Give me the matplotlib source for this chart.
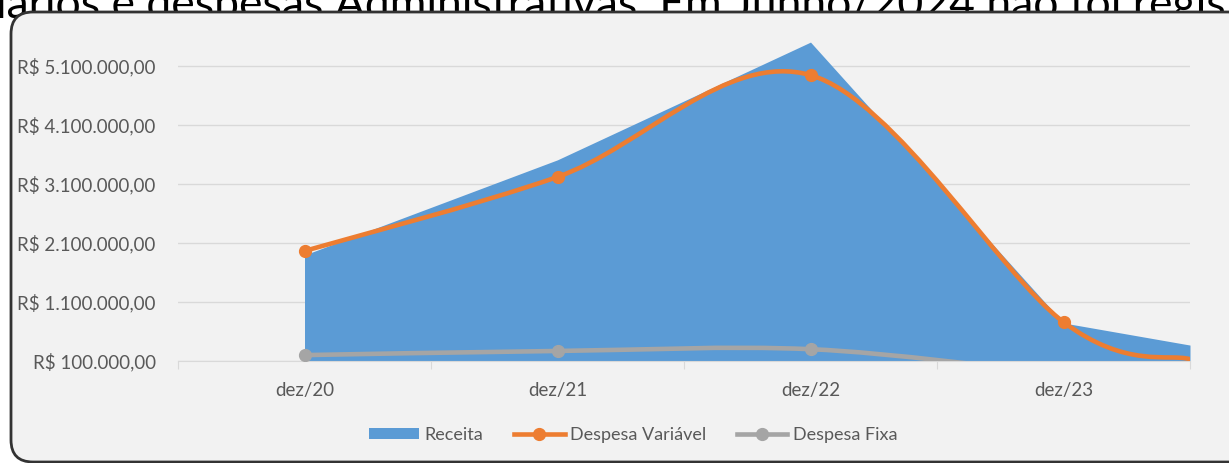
import numpy as np
import matplotlib
matplotlib.use("Agg")
import matplotlib.pyplot as plt
from matplotlib.path import Path
from matplotlib.patches import PathPatch, FancyBboxPatch, Patch
from matplotlib.lines import Line2D
from matplotlib.transforms import IdentityTransform
from matplotlib.ticker import FuncFormatter

plt.rcParams['font.family'] = ['Lato', 'DejaVu Sans']

# months counted from jun/20
MONTHS = [6, 18, 30, 42, 48]
CATEGORY_LABELS = ["dez/20", "dez/21", "dez/22", "dez/23"]
RECEITA = [1_897_000, 3_510_000, 5_505_000, 745_000, 370_000]
DESPESA_VARIAVEL = [1_965_000, 3_220_000, 4_945_000, 760_000, 130_000]
DESPESA_FIXA = [200_000, 270_000, 300_000, -100_000, -100_000]
Y_TICKS = [100_000, 1_100_000, 2_100_000, 3_100_000, 4_100_000, 5_100_000]

BLUE = '#5b9bd5'
ORANGE = '#ed7d31'
GRAY = '#a5a5a5'
TEXT = '#595959'


def brl(v, pos=None):
    s = f"{v:,.2f}"
    s = s.replace(",", "X").replace(".", ",").replace("X", ".")
    return "R$ " + s


def SmoothPath(xs, ys):
    # Excel-style smoothing: cubic bezier with catmull-rom control points
    pts = np.column_stack([xs, ys]).astype(float)
    n = len(pts)
    verts = [pts[0]]
    codes = [Path.MOVETO]
    for i in range(n - 1):
        p0 = pts[i - 1] if i > 0 else pts[i]
        p1 = pts[i]
        p2 = pts[i + 1]
        p3 = pts[i + 2] if i + 2 < n else pts[i + 1]
        verts += [p1 + (p2 - p0) / 6, p2 - (p3 - p1) / 6, p2]
        codes += [Path.CURVE4] * 3
    return Path(verts, codes)


fig = plt.figure(figsize=(12.29, 4.63), dpi=100)
fig.patch.set_facecolor('white')

# text of the page behind the chart, mostly hidden by the chart frame
fig.text(-4, 445, "lários e despesas Administrativas. Em Junho/2024 não foi registrado",
         transform=IdentityTransform(), fontsize=32, color='black', va='baseline', zorder=-3)

frame = FancyBboxPatch((11, 1), 1240, 450, boxstyle="round,pad=0,rounding_size=22",
                       transform=IdentityTransform(), facecolor='#f2f2f2',
                       edgecolor='#333333', linewidth=2, zorder=-1)
fig.add_artist(frame)

ax = fig.add_axes([178 / 1229, 1 - 361 / 463, (1190 - 178) / 1229, (361 - 36.5) / 463])
ax.set_facecolor('none')

ax.fill_between(MONTHS, RECEITA, 0, color=BLUE, linewidth=0, zorder=2)

ax.add_patch(PathPatch(SmoothPath(MONTHS, DESPESA_FIXA), fill=False, edgecolor=GRAY,
                       linewidth=3.3, capstyle='round', zorder=3))
ax.plot(MONTHS, DESPESA_FIXA, 'o', color=GRAY, markersize=8.5, zorder=4)

ax.add_patch(PathPatch(SmoothPath(MONTHS, DESPESA_VARIAVEL), fill=False, edgecolor=ORANGE,
                       linewidth=3.3, capstyle='round', zorder=5))
ax.plot(MONTHS, DESPESA_VARIAVEL, 'o', color=ORANGE, markersize=8.5, markevery=[0, 1, 2, 3], zorder=6)

ax.set_xlim(0, 48)
ax.set_ylim(100_000, 5_600_000)
ax.set_yticks(Y_TICKS)
ax.yaxis.set_major_formatter(FuncFormatter(brl))
ax.tick_params(axis='y', length=0, pad=16, labelsize=13.5, labelcolor=TEXT)
ax.grid(axis='y', color='#d9d9d9', linewidth=1)
ax.set_axisbelow(True)

ax.set_xticks([0, 12, 24, 36, 48])
ax.set_xticklabels([])
ax.set_xticks([6, 18, 30, 42], minor=True)
ax.set_xticklabels(CATEGORY_LABELS, minor=True)
ax.tick_params(axis='x', which='major', length=6, color='#d9d9d9', direction='out')
ax.tick_params(axis='x', which='minor', length=0, pad=15, labelsize=13.5, labelcolor=TEXT)

for s in ['top', 'right', 'left']:
    ax.spines[s].set_visible(False)
ax.spines['bottom'].set_color('#d9d9d9')

handles = [
    Patch(facecolor=BLUE, edgecolor='none', label='Receita'),
    Line2D([], [], color=ORANGE, linewidth=3.3, marker='o', markersize=8.5, label='Despesa Variável'),
    Line2D([], [], color=GRAY, linewidth=3.3, marker='o', markersize=8.5, label='Despesa Fixa'),
]
leg = fig.legend(handles=handles, loc='center', bbox_to_anchor=(633 / 1229, 1 - 435 / 463),
                 ncol=3, frameon=False, fontsize=13, handlelength=2.8, handleheight=0.6,
                 handletextpad=0.3, columnspacing=1.7, labelcolor=TEXT)

fig.savefig("out.png", dpi=100)
